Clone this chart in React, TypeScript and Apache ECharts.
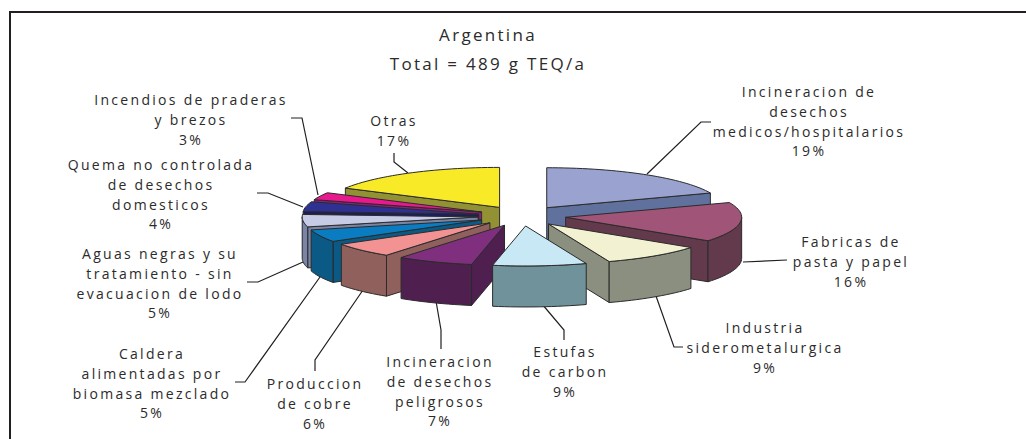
import React, { useEffect, useRef } from "react";
import * as echarts from "echarts";

const titleLines = ["Argentina", "Total = 489 g TEQ/a"];
const categories = [
  "Incineracion de\ndesechos\nmedicos/hospitalarios",
  "Fabricas de\npasta y papel",
  "Industria\nsiderometalurgica",
  "Estufas\nde carbon",
  "Incineracion\nde desechos\npeligrosos",
  "Produccion\nde cobre",
  "Caldera\nalimentadas por\nbiomasa mezclado",
  "Aguas negras y su\ntratamiento - sin\nevacuacion de lodo",
  "Quema no controlada\nde desechos\ndomesticos",
  "Incendios de praderas\ny brezos",
  "Otras",
];
const values = [19, 16, 9.4, 8.6, 7, 6, 5, 5, 4, 3, 17];
const topColors = ["#9aa2cf", "#a05478", "#f2f2d3", "#c8e8f5", "#7f2f7e", "#f29292", "#0a7cc1", "#c6cbe6", "#2e3192", "#e8198c", "#f8ea26"];
const sideColors = ["#5f719c", "#633a4c", "#8a8f7f", "#70929b", "#4f1f50", "#90605c", "#0a5a85", "#7a85a5", "#1d1d5a", "#8c1f7c", "#929134"];
const paintOrder = [10, 9, 8, 7, 6, 5, 4, 0, 1, 2, 3];

// Layout of the pie
const CX = 522, CY = 216, RX = 176, RY = 40, DEPTH = 41, EXPLODE = 0.25;
const EDGE = "#2b2b2b";

// Label anchors [centre x, top y of the first line]
const labelPos: number[][] = [
  [809, 82], [851, 232], [765, 318], [565, 342], [440, 352], [315, 374],
  [152, 344], [160, 244], [161, 155], [191, 90], [394, 111],
];
const leaders: number[][][] = [
  [[647, 174], [701, 122], [711, 122]],
  [[743, 262], [787, 260]],
  [[656, 296], [674, 347], [683, 347]],
  [[542, 304], [564, 330], [564, 340]],
  [[436, 301], [441, 330], [441, 349]],
  [[363, 290], [315, 360], [315, 371]],
  [[320, 277], [245, 382], [235, 382]],
  [[303, 262], [258, 282], [247, 282]],
  [[303, 207], [268, 193], [257, 193]],
  [[318, 195], [302, 118], [291, 118]],
  [[408, 173], [394, 162], [394, 153]],
];

const total = values.reduce((a, b) => a + b, 0);
const starts: number[] = [];
values.reduce((acc, v, i) => {
  starts[i] = (acc / total) * 360;
  return acc + v;
}, 0);

const rad = (d: number) => (d * Math.PI) / 180;

function arcPoints(ax: number, ay: number, from: number, to: number, dy = 0) {
  const n = Math.max(2, Math.ceil(Math.abs(to - from) / 2));
  const out: number[][] = [];
  for (let k = 0; k <= n; k++) {
    const t = rad(from + ((to - from) * k) / n);
    out.push([ax + RX * Math.sin(t), ay - RY * Math.cos(t) + dy]);
  }
  return out;
}

function renderSlice(_params: any, api: any) {
  const i = api.value(0) as number;
  const value = api.value(1) as number;
  const s = starts[i];
  const e = s + (value / total) * 360;
  const mid = rad((s + e) / 2);
  const ax = CX + RX * EXPLODE * Math.sin(mid);
  const ay = CY - RY * EXPLODE * Math.cos(mid);
  const side = { fill: sideColors[i], stroke: EDGE, lineWidth: 1 };
  const children: any[] = [];
  const wall = (a: number) => {
    const p = arcPoints(ax, ay, a, a)[0];
    children.push({
      type: "polygon",
      shape: { points: [[ax, ay], p, [p[0], p[1] + DEPTH], [ax, ay + DEPTH]] },
      style: side,
    });
  };
  if (Math.sin(rad(s)) < -1e-6) wall(s);
  if (Math.sin(rad(e)) > 1e-6) wall(e);
  const a0 = Math.max(s, 90), a1 = Math.min(e, 270);
  if (a1 > a0) {
    const upper = arcPoints(ax, ay, a0, a1);
    const lower = arcPoints(ax, ay, a0, a1, DEPTH).reverse();
    children.push({ type: "polygon", shape: { points: upper.concat(lower) }, style: side });
  }
  children.push({
    type: "polygon",
    shape: { points: [[ax, ay], ...arcPoints(ax, ay, s, e)] },
    style: { fill: topColors[i], stroke: EDGE, lineWidth: 1 },
  });
  return { type: "group", children };
}

export default function App() {
  const ref = useRef<HTMLDivElement>(null);
  useEffect(() => {
    if (!ref.current) return;
    const chart = echarts.init(ref.current, undefined, { renderer: "svg" });
    const font = '14px "Open Sans", sans-serif';
    const graphic: any[] = [
      {
        type: "polyline",
        shape: { points: [[10, 439], [10, 12], [1026, 12]] },
        style: { fill: "none", stroke: "#231f20", lineWidth: 2 },
      },
    ];
    leaders.forEach((pts) =>
      graphic.push({
        type: "polyline",
        shape: { points: pts },
        style: { fill: "none", stroke: "#231f20", lineWidth: 1.2 },
      })
    );
    categories.forEach((c, i) =>
      graphic.push({
        type: "text",
        x: labelPos[i][0],
        y: labelPos[i][1],
        style: {
          text: `${c}\n${Math.round(values[i])}%`,
          font,
          fill: "#2b2b2b",
          textAlign: "center",
          textVerticalAlign: "top",
          lineHeight: 19.6,
        },
      })
    );
    chart.setOption({
      animation: false,
      backgroundColor: "#ffffff",
      title: {
        text: titleLines.join("\n"),
        left: 483,
        top: 15,
        textAlign: "center",
        textStyle: { fontFamily: '"Open Sans", sans-serif', fontSize: 17, fontWeight: "normal", color: "#2b2b2b", lineHeight: 29 },
      },
      graphic,
      series: [
        {
          type: "custom",
          coordinateSystem: "none",
          silent: true,
          renderItem: renderSlice,
          data: paintOrder.map((i) => [i, values[i]]),
        },
      ],
    });
    return () => chart.dispose();
  }, []);
  return (
    <>
      <style>{"html,body{margin:0;padding:0;background:#fff}"}</style>
      <div ref={ref} style={{ width: 1026, height: 439, letterSpacing: "2.3px" }} />
    </>
  );
}
